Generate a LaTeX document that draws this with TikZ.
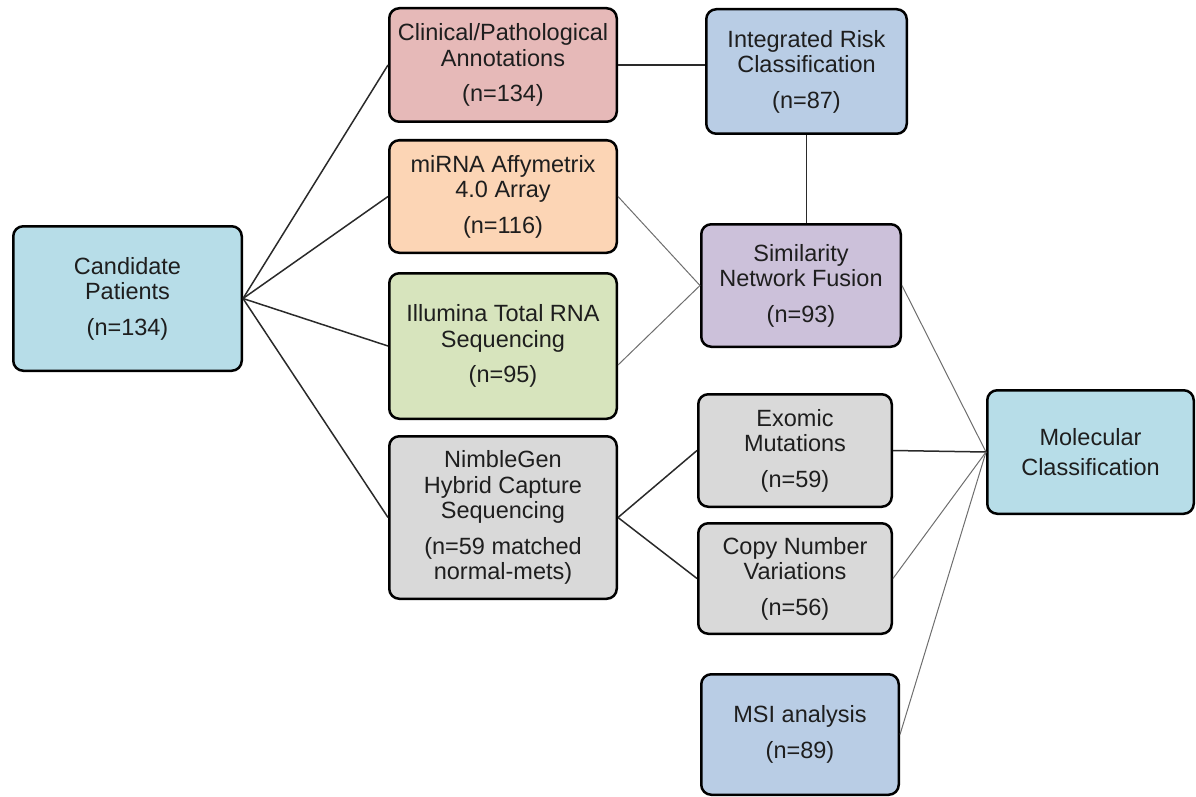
\documentclass[tikz,border=0pt]{standalone}
\usepackage{fontspec}
\setmainfont{Liberation Sans}
\definecolor{cteal}{HTML}{B7DDE8}
\definecolor{cpink}{HTML}{E6B9B8}
\definecolor{cpeach}{HTML}{FCD5B5}
\definecolor{cgreen}{HTML}{D7E4BD}
\definecolor{cgray}{HTML}{D9D9D9}
\definecolor{cblue}{HTML}{B9CDE5}
\definecolor{clav}{HTML}{CCC1DA}
\definecolor{ctext}{HTML}{1E1E1E}
\definecolor{cline}{HTML}{2A2A2A}
\definecolor{cthin}{HTML}{6E6E6E}
\tikzset{
  box/.style={draw=black, line width=2.5pt, rounded corners=10pt, inner sep=0pt,
    align=center, text=ctext, font=\fontsize{23.5}{25.5}\selectfont},
  mainline/.style={draw=cline, line width=1.5pt},
  thinline/.style={draw=cthin, line width=1pt}
}
\begin{document}
\begin{tikzpicture}[x=1pt,y=-1pt]
\useasboundingbox (0,0) rectangle (1196,797);
\node[box, fill=cteal, minimum width=228.5pt, minimum height=144.5pt] (cand) at (127.5,298.5)
  {Candidate\\Patients\\[10pt](n=134)};
\node[box, fill=cpink, minimum width=227.5pt, minimum height=113.5pt] (clin) at (503,65)
  {Clinical/Pathological\\Annotations\\[10pt](n=134)};
\node[box, fill=cpeach, minimum width=227.5pt, minimum height=112.5pt] (mirna) at (503,196.5)
  {miRNA Affymetrix\\4.0 Array\\[10pt](n=116)};
\node[box, fill=cgreen, minimum width=227.5pt, minimum height=145.5pt] (illu) at (503,346)
  {Illumina Total RNA\\Sequencing\\[10pt](n=95)};
\node[box, fill=cgray, minimum width=227.5pt, minimum height=162.5pt] (nimb) at (503,517.5)
  {NimbleGen\\Hybrid Capture\\Sequencing\\[10pt](n=59 matched\\normal-mets)};
\node[box, fill=cblue, minimum width=200.5pt, minimum height=124.5pt] (integ) at (806.5,71.5)
  {Integrated Risk\\Classification\\[10pt](n=87)};
\node[box, fill=clav, minimum width=199.5pt, minimum height=122.5pt] (simil) at (801,285.5)
  {Similarity\\Network Fusion\\[10pt](n=93)};
\node[box, fill=cgray, minimum width=193.5pt, minimum height=112.5pt] (exom) at (795,450.5)
  {Exomic\\Mutations\\[10pt](n=59)};
\node[box, fill=cgray, minimum width=193.5pt, minimum height=110.5pt] (cnv) at (795,578.5)
  {Copy Number\\Variations\\[10pt](n=56)};
\node[box, fill=cblue, minimum width=197.5pt, minimum height=120.5pt] (msi) at (800,734.5)
  {MSI analysis\\[10pt](n=89)};
\node[box, fill=cteal, minimum width=206.5pt, minimum height=123.5pt] (molec) at (1090.5,452)
  {Molecular\\[4pt]Classification};
% connectors
\draw[mainline] (cand.east) -- (clin.west);
\draw[mainline] (cand.east) -- (mirna.west);
\draw[mainline] (cand.east) -- (illu.west);
\draw[mainline] (cand.east) -- (nimb.west);
\draw[mainline] (clin.east) -- (clin.east -| integ.west);
\draw[mainline] (integ.south) -- (integ.south |- simil.north);
\draw[thinline] (mirna.east) -- (simil.west);
\draw[thinline] ([yshift=-19pt]illu.east) -- (simil.west);
\draw[mainline] (nimb.east) -- (exom.west);
\draw[mainline] (nimb.east) -- (cnv.west);
\draw[thinline] (simil.east) -- (molec.west);
\draw[mainline] (exom.east) -- (molec.west);
\draw[thinline] (cnv.east) -- (molec.west);
\draw[thinline] (msi.east) -- (molec.west);
\end{tikzpicture}
\end{document}
